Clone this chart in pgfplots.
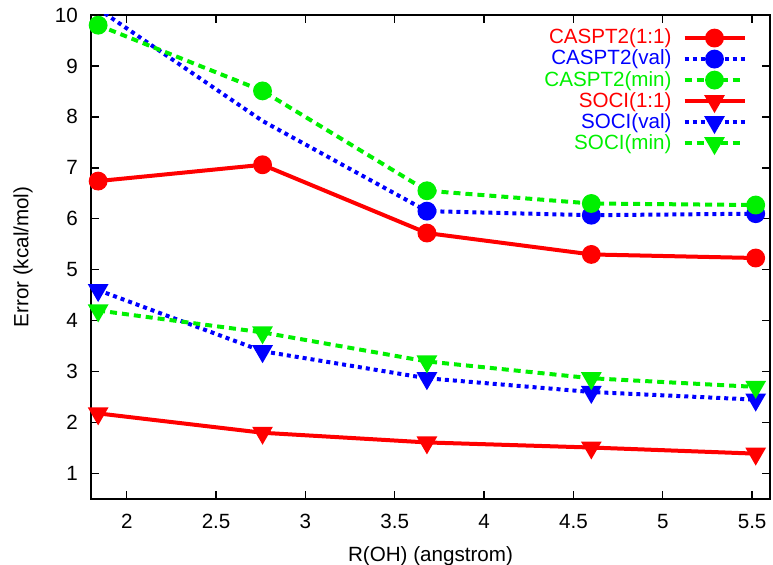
\documentclass[border=0pt]{standalone}
\usepackage{pgfplots}
\pgfplotsset{compat=1.18}
\usepackage{fontspec}
\setmainfont{Liberation Sans}
\definecolor{gpred}{RGB}{255,0,0}
\definecolor{gpblue}{RGB}{0,0,255}
\definecolor{gpgreen}{RGB}{0,240,0}
\begin{document}
\fontsize{10.3}{12.4}\selectfont
\begin{tikzpicture}
\begin{axis}[
  scale only axis,
  width=339.5pt, height=242pt,
  xmin=1.8, xmax=5.6, ymin=0.5, ymax=10,
  xtick={2,2.5,3,3.5,4,4.5,5,5.5},
  ytick={1,2,...,10},
  tick align=inside,
  major tick length=4pt,
  axis line style={line width=0.9pt},
  tick style={line width=0.7pt, black},
  /pgf/number format/assume math mode=true,
  xticklabel style={yshift=-4pt},
  yticklabel style={xshift=-3pt},
  xlabel={R(OH) (angstrom)},
  ylabel={Error (kcal/mol)},
  xlabel style={yshift=-2pt},
  ylabel style={yshift=4pt},
  legend style={draw=none, fill=none, at={(0.966,0.978)}, anchor=north east,
    row sep=-1.5pt, column sep=4pt, inner sep=0pt, nodes={inner sep=1.5pt}},
  legend cell align=right,
  legend plot pos=right,
  legend image code/.code={
    \draw[#1, mark=none] (0pt,0pt) -- (30pt,0pt);
    \draw[#1, only marks, mark indices={1}] plot coordinates {(15pt,0pt)};
  },
  every axis plot/.append style={line width=2pt},
]
\addplot[gpred, solid, mark=*, mark size=3.7pt, mark options={solid}]
  coordinates {(1.84,6.74) (2.76,7.06) (3.68,5.72) (4.60,5.30) (5.52,5.23)};
\addlegendentry{\textcolor{gpred}{CASPT2(1:1)}}
\addplot[gpblue, dash pattern=on 2pt off 2pt, mark=*, mark size=3.7pt, mark options={solid}, mark indices={2,3,4,5}]
  coordinates {(1.84,10.12) (2.76,7.92) (3.68,6.15) (4.60,6.07) (5.52,6.10)};
\addlegendentry{\textcolor{gpblue}{CASPT2(val)}}
\addplot[gpgreen, dash pattern=on 3.5pt off 2.5pt, mark=*, mark size=3.7pt, mark options={solid}]
  coordinates {(1.84,9.80) (2.76,8.51) (3.68,6.55) (4.60,6.30) (5.52,6.27)};
\addlegendentry{\textcolor{gpgreen}{CASPT2(min)}}
\addplot[gpred, solid, mark=triangle*, mark size=4pt, mark options={solid, rotate=180}]
  coordinates {(1.84,2.18) (2.76,1.80) (3.68,1.61) (4.60,1.51) (5.52,1.39)};
\addlegendentry{\textcolor{gpred}{SOCI(1:1)}}
\addplot[gpblue, dash pattern=on 2pt off 2pt, mark=triangle*, mark size=4pt, mark options={solid, rotate=180}]
  coordinates {(1.84,4.60) (2.76,3.40) (3.68,2.87) (4.60,2.60) (5.52,2.45)};
\addlegendentry{\textcolor{gpblue}{SOCI(val)}}
\addplot[gpgreen, dash pattern=on 3.5pt off 2.5pt, mark=triangle*, mark size=4pt, mark options={solid, rotate=180}]
  coordinates {(1.84,4.20) (2.76,3.77) (3.68,3.20) (4.60,2.87) (5.52,2.70)};
\addlegendentry{\textcolor{gpgreen}{SOCI(min)}}
\end{axis}
\pgfresetboundingbox
\path[use as bounding box] (-45.5pt,-33pt) rectangle (341pt,249.5pt);
\end{tikzpicture}
\end{document}
